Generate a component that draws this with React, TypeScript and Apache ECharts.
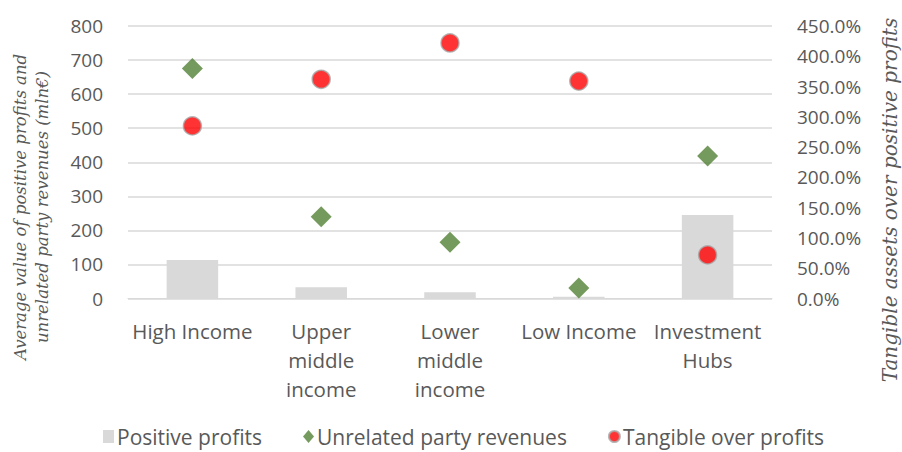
import React, { useEffect, useRef } from "react";
import * as echarts from "echarts";

const categories = [
  "High Income",
  "Upper\nmiddle\nincome",
  "Lower\nmiddle\nincome",
  "Low Income",
  "Investment\nHubs",
];
// mln€
const positiveProfits = [113, 33, 18, 5, 245];
const unrelatedRevenues = [675, 240, 165, 31, 418];
// percent
const tangibleOverProfits = [285, 362, 422, 359, 72];

const leftTicks = { min: 0, max: 800, interval: 100 };
const rightTicks = { min: 0, max: 450, interval: 50 };

const LABEL_FONT = "Open Sans";
const TITLE_FONT = "DejaVu Serif";
const GREY = "#595959";

export default function App() {
  const ref = useRef<HTMLDivElement>(null);

  useEffect(() => {
    if (!ref.current) return;
    const chart = echarts.init(ref.current, undefined, { renderer: "svg" });
    chart.setOption({
      animation: false,
      backgroundColor: "#ffffff",
      grid: { left: 128, right: 130, top: 26, bottom: 153.5, containLabel: false },
      xAxis: {
        type: "category",
        data: categories,
        axisLine: { show: true, lineStyle: { color: "#d9d9d9", width: 1 } },
        axisTick: { show: false },
        axisLabel: {
          color: GREY,
          fontFamily: LABEL_FONT,
          fontSize: 20.5,
          lineHeight: 29,
          margin: 18,
          interval: 0,
        },
      },
      yAxis: [
        {
          type: "value",
          ...leftTicks,
          axisLine: { show: false },
          axisTick: { show: false },
          splitLine: { lineStyle: { color: "#d9d9d9", width: 1.5 } },
          axisLabel: { color: GREY, fontFamily: LABEL_FONT, fontSize: 19, margin: 25 },
        },
        {
          type: "value",
          ...rightTicks,
          axisLine: { show: false },
          axisTick: { show: false },
          splitLine: { show: false },
          axisLabel: {
            color: GREY,
            fontFamily: LABEL_FONT,
            fontSize: 19,
            margin: 25,
            formatter: (v: number) => v.toFixed(1) + "%",
          },
        },
      ],
      legend: {
        bottom: 0,
        left: 98,
        itemGap: 41,
        itemWidth: 11,
        itemHeight: 13,
        textStyle: { color: GREY, fontFamily: LABEL_FONT, fontSize: 21, padding: [0, 0, 0, -2] },
        data: [
          { name: "Positive profits", icon: "rect" },
          { name: "Unrelated party revenues", icon: "diamond" },
          { name: "Tangible over profits", icon: "circle" },
        ],
      },
      graphic: [
        {
          type: "text",
          x: 31,
          y: 207,
          rotation: Math.PI / 2,
          style: {
            text: "Average value of positive profits and\nunrelated party revenues (mln€)",
            fill: GREY,
            fontFamily: TITLE_FONT,
            fontStyle: "italic",
            fontSize: 16.5,
            align: "center",
            verticalAlign: "middle",
            lineHeight: 22,
          },
        },
        {
          type: "text",
          x: 890,
          y: 200,
          rotation: Math.PI / 2,
          style: {
            text: "Tangible assets over positive profits",
            fill: GREY,
            fontFamily: TITLE_FONT,
            fontStyle: "italic",
            fontSize: 20,
            align: "center",
            verticalAlign: "middle",
          },
        },
      ],
      series: [
        {
          name: "Positive profits",
          type: "bar",
          yAxisIndex: 0,
          data: positiveProfits,
          barWidth: "40%",
          itemStyle: { color: "#d9d9d9" },
        },
        {
          name: "Unrelated party revenues",
          type: "scatter",
          yAxisIndex: 0,
          data: unrelatedRevenues,
          symbol: "diamond",
          symbolSize: 21,
          itemStyle: { color: "#538135" },
          z: 3,
        },
        {
          name: "Tangible over profits",
          type: "scatter",
          yAxisIndex: 1,
          data: tangibleOverProfits,
          symbol: "circle",
          symbolSize: 18,
          itemStyle: { color: "#ff0000", borderColor: "#a6a6a6", borderWidth: 1.5 },
          z: 4,
        },
      ],
    });
    return () => chart.dispose();
  }, []);

  return (
    <div
      ref={ref}
      style={{ position: "fixed", left: 0, top: 0, width: 902, height: 452 }}
    />
  );
}
